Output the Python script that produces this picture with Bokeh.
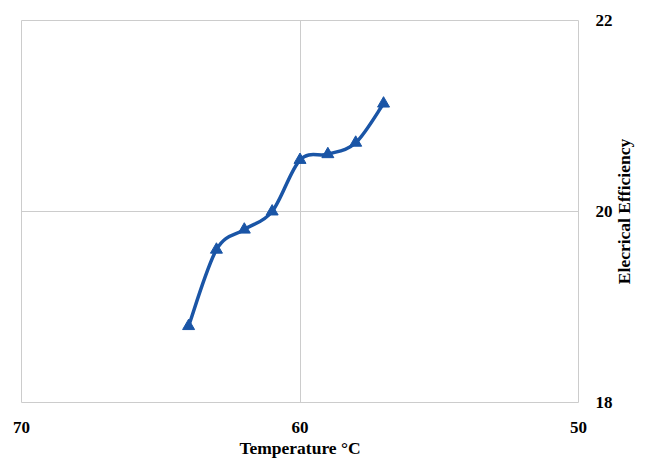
import math
from bokeh.plotting import figure
from bokeh.models import Range1d, FixedTicker
from bokeh.layouts import row
from bokeh.core.properties import value
from bokeh.embed import file_html
from bokeh.resources import INLINE

# Data
temperature = [64, 63, 62, 61, 60, 59, 58, 57]
efficiency = [18.8, 19.6, 19.81, 20.0, 20.54, 20.6, 20.72, 21.13]
x_ticks = [50, 60, 70]
y_ticks = [18, 20, 22]
y_title = "Elecrical Efficiency"
x_title = "Temperature °C"

LINE_COLOR = "#1a55a6"
GRID_COLOR = "#cccccc"
FONT = "Liberation Serif"

p = figure(width=615, height=460, output_backend="svg", toolbar_location=None,
           x_range=Range1d(70, 50), y_range=Range1d(18, 22),
           y_axis_location="right",
           min_border_left=21, min_border_right=37, min_border_top=20, min_border_bottom=52)

p.outline_line_color = GRID_COLOR
p.outline_line_width = 1

for g in (p.xgrid, p.ygrid):
    g.grid_line_color = GRID_COLOR
    g.grid_line_width = 1

p.xaxis.ticker = FixedTicker(ticks=x_ticks)
p.yaxis.ticker = FixedTicker(ticks=y_ticks)
p.xgrid.ticker = FixedTicker(ticks=x_ticks)
p.ygrid.ticker = FixedTicker(ticks=y_ticks)

for ax in (p.xaxis, p.yaxis):
    ax.axis_line_color = None
    ax.major_tick_line_color = None
    ax.minor_tick_line_color = None
    ax.major_label_text_font = FONT
    ax.major_label_text_font_style = "bold"
    ax.major_label_text_font_size = "17px"
    ax.major_label_text_color = "black"
    ax.axis_label_text_font = FONT
    ax.axis_label_text_font_style = "bold"
    ax.axis_label_text_font_size = "17.5px"
    ax.axis_label_text_color = "black"

p.xaxis.axis_label = x_title
p.xaxis.major_label_standoff = 13
p.xaxis.axis_label_standoff = 2
p.yaxis.major_label_standoff = 11

# smooth curve (Catmull-Rom -> cubic bezier) through the data points
n = len(temperature)
x0s, y0s, x1s, y1s, cx0, cy0, cx1, cy1 = ([] for _ in range(8))
for i in range(n - 1):
    a = max(i - 1, 0)
    d = min(i + 2, n - 1)
    x0s.append(temperature[i]); y0s.append(efficiency[i])
    x1s.append(temperature[i + 1]); y1s.append(efficiency[i + 1])
    cx0.append(temperature[i] + (temperature[i + 1] - temperature[a]) / 6)
    cy0.append(efficiency[i] + (efficiency[i + 1] - efficiency[a]) / 6)
    cx1.append(temperature[i + 1] - (temperature[d] - temperature[i]) / 6)
    cy1.append(efficiency[i + 1] - (efficiency[d] - efficiency[i]) / 6)

p.bezier(x0=x0s, y0=y0s, x1=x1s, y1=y1s, cx0=cx0, cy0=cy0, cx1=cx1, cy1=cy1,
         line_color=LINE_COLOR, line_width=3.5)
p.scatter(temperature, efficiency, marker="triangle", size=12,
          fill_color=LINE_COLOR, line_color=LINE_COLOR)

# narrow strip on the right holding the y-axis title (reads bottom-to-top)
t = figure(width=20, height=460, output_backend="svg", toolbar_location=None,
           x_range=Range1d(0, 20), y_range=p.y_range,
           x_axis_type=None, y_axis_type=None,
           min_border_left=0, min_border_right=0, min_border_top=20, min_border_bottom=52)
t.outline_line_color = None
t.xgrid.visible = False
t.ygrid.visible = False
t.text(x=[8], y=[20], text=[y_title], angle=math.pi / 2,
       text_align="center", text_baseline="middle",
       text_font=value(FONT), text_font_style="bold", text_font_size="17.5px",
       text_color="black")

layout = row(p, t)
open("out.html", "w").write(file_html(layout, INLINE))
